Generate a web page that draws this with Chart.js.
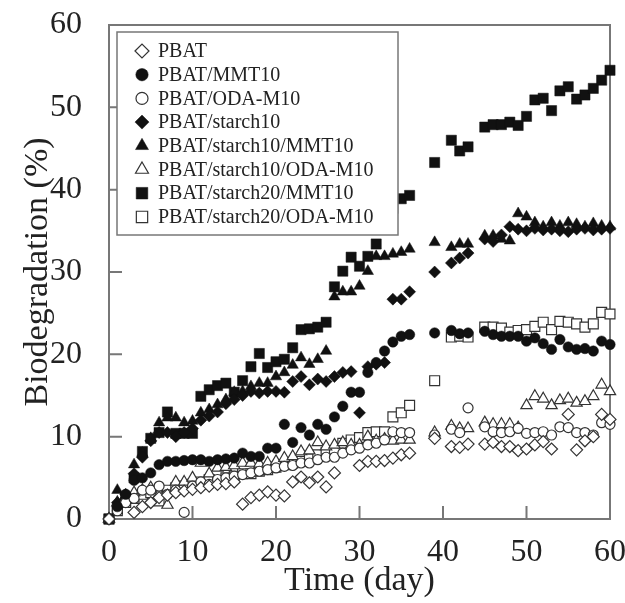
<!DOCTYPE html>
<html>
<head>
<meta charset="utf-8">
<script src="https://cdn.jsdelivr.net/npm/chart.js@4"></script>
<style>
  body { margin: 0; background: #fff; }
  #wrap { width: 625px; height: 603px; }
</style>
</head>
<body>
<div id="wrap"><canvas id="bioChart" width="625" height="603"></canvas></div>
<script>
// sampling days (x values shared by all series)
const days = [0,1,2,3,4,5,6,7,8,9,10,11,12,13,14,15,16,17,18,19,20,21,22,23,24,25,26,27,28,29,30,31,32,33,34,35,36,
  39,41,42,43,45,46,47,48,49,50,51,52,53,54,55,56,57,58,59,60];

const pbat = [0,null,null,0.8,1.5,2,2.6,2.9,3.2,3.4,3.6,3.8,4,4.2,4.3,4.5,1.8,2.6,2.9,3.3,2.9,2.8,4.5,5.1,4.4,5.1,3.9,5.6,null,null,6.5,7,7,7.1,7.4,7.8,8,
  9.8,8.8,8.7,9.1,9.1,9.3,8.8,8.8,8.3,8.5,9,9.4,8.5,null,12.7,8.4,9.5,10,12.7,12.1];
const pbatMmt = [0,1.5,3,4.7,5,5.6,6.6,7,7,7.1,7.2,7.2,7,7.2,7.3,7.4,8,7.6,7.6,8.6,8.6,11.5,9.3,11.1,10.2,11.5,10.9,12.4,13.7,15.4,15.4,17.8,19,20.4,21.5,22.2,22.4,
  22.6,22.9,22.5,22.6,22.8,22.4,22.2,22.2,22.2,21.6,22,21.3,20.6,21.8,20.9,20.6,20.7,20.4,21.6,21.2];
const pbatOda = [0,1,2,2.5,3.5,3.5,4,3,3.5,0.8,4,4.5,4.2,4.8,5,5.2,5.4,5.6,5.8,6,6.2,6.4,6.5,6.8,6.8,7.2,7.5,7.5,8,8.4,8.6,9,9.2,9.6,10.6,10.5,10.5,
  10.2,10.9,10.5,13.5,11.2,10.6,10.5,10.6,11,10.4,10.5,10.6,10.2,11.2,11.1,10.5,10.5,10.2,11.7,11.5];
const s10 = [0,2,3,5.5,7.5,9.5,10.5,10.5,10,10.5,11,12,12.5,13,14,14.5,15,15.5,15.3,15.5,15.5,15.4,16.7,17.3,16.3,17,16.7,17.3,17.8,17.9,12.9,18.5,18.8,19,26.7,26.7,27.6,
  30,31.1,31.7,32.3,34,33.7,34.5,35.5,35.2,35,35.3,35.1,35.2,35,34.9,35.2,35.3,35.1,35.2,35.3];
const s10Mmt = [0,3.5,2.8,6.6,8,9.8,11.7,12.3,12.3,11.7,11.9,12.9,13.3,13.9,14.5,15.4,15.5,16.1,16.5,16.5,17.3,17.8,18.7,19.6,18.8,19.4,20.4,27,27.6,27.6,28.3,30.1,31.9,31.9,32.2,32.4,32.8,
  33.6,33,33.4,33.4,34.4,34.4,34,33.8,37.1,36.7,36,35.5,36,35.6,36,35.8,35.5,35.9,35.6,35.5];
const s10Oda = [0,2,2.5,3.2,3.5,3.8,3,1.7,4.5,4.5,5,6.8,5.5,6.2,6.3,6.5,6.8,6.8,6.7,6.8,7,7.4,7.6,8.2,8.3,9.3,8.8,9,9.3,9,9,10,9.5,9.7,9.5,9.6,9.6,
  10.5,11.3,11,11,11.7,11.5,11.5,11.5,11.1,13.8,14.9,14.6,13.8,14.4,14.6,14.1,14.3,14.9,16.3,15.5];
const s20Mmt = [0,1.3,2.5,5,8.2,9.8,10.5,13,10.4,10.4,10.4,14.9,15.7,16.2,16.5,15.4,16.8,18.5,20.1,18.4,19.1,19.4,20.8,23,23.1,23.3,23.9,28.2,30.1,31.8,30.7,31.9,33.4,36.2,37.7,38.9,39.3,
  43.3,46,44.7,45.2,47.6,47.9,47.9,48.2,47.8,48.9,50.9,51.1,49.6,52,52.5,51,51.5,52.3,53.3,54.5];
const s20Oda = [0,1,2,2.5,3,3.2,2.2,3.5,3.8,4,4.2,4.5,4.8,4.7,5,5.2,5.5,5.5,5.8,6,6.3,6.6,6.8,7,7.3,7.8,8.1,8.3,9.2,9.6,9.9,10.5,10.6,10.6,12.4,12.9,13.8,
  16.8,22.1,22.2,22.1,23.3,23.3,23.2,22.7,22.9,23,23.4,23.9,23,24,23.9,23.7,23.3,23.7,25.1,24.9];

const seriesNames = ['PBAT', 'PBAT/MMT10', 'PBAT/ODA-M10', 'PBAT/starch10', 'PBAT/starch10/MMT10',
  'PBAT/starch10/ODA-M10', 'PBAT/starch20/MMT10', 'PBAT/starch20/ODA-M10'];
const xTicks = [0, 10, 20, 30, 40, 50, 60];
const yTicks = [0, 10, 20, 30, 40, 50, 60];

const serif = '"Liberation Serif", "Times New Roman", serif';
const ink = '#111';

function pts(vals) {
  const out = [];
  vals.forEach((v, i) => { if (v !== null) out.push({ x: days[i], y: v }); });
  return out;
}

function makeSet(label, vals, style, filled, radius) {
  return {
    label: label,
    data: pts(vals),
    pointStyle: style,
    pointRadius: radius,
    pointHoverRadius: radius,
    backgroundColor: filled ? ink : '#fff',
    borderColor: filled ? ink : '#333',
    borderWidth: filled ? 0.5 : 1.2,
    showLine: false,
    clip: false
  };
}

// frame + inward ticks
const frame = {
  id: 'frame',
  beforeDatasetsDraw(chart) {
    const ctx = chart.ctx;
    const a = chart.chartArea;
    const xs = chart.scales.x, ys = chart.scales.y;
    ctx.save();
    ctx.strokeStyle = '#777';
    ctx.lineWidth = 2;
    ctx.strokeRect(a.left, a.top, a.right - a.left, a.bottom - a.top);
    ctx.beginPath();
    xTicks.forEach(t => {
      const px = xs.getPixelForValue(t);
      ctx.moveTo(px, a.bottom);
      ctx.lineTo(px, a.bottom - 13);
    });
    yTicks.forEach(t => {
      const py = ys.getPixelForValue(t);
      ctx.moveTo(a.left, py);
      ctx.lineTo(a.left + 13, py);
    });
    ctx.stroke();
    ctx.restore();
  }
};

// legend drawn inside the plot, with a box around it
const legendBox = {
  id: 'legendBox',
  afterDatasetsDraw(chart) {
    const ctx = chart.ctx;
    const a = chart.chartArea;
    const x0 = a.left + 8, y0 = a.top + 7;
    ctx.save();
    ctx.fillStyle = '#fff';
    ctx.fillRect(x0, y0, 281, 203);
    ctx.strokeStyle = '#777';
    ctx.lineWidth = 1.5;
    ctx.strokeRect(x0, y0, 281, 203);
    ctx.font = '20px ' + serif;
    ctx.textBaseline = 'middle';
    chart.data.datasets.forEach((ds, i) => {
      const cy = y0 + 19 + i * 23.7;
      ctx.fillStyle = ds.backgroundColor;
      ctx.strokeStyle = ds.borderColor;
      ctx.lineWidth = ds.borderWidth;
      Chart.helpers.drawPoint(ctx, { pointStyle: ds.pointStyle, radius: ds.pointRadius + 1, borderWidth: ds.borderWidth, rotation: 0 }, x0 + 25, cy);
      ctx.fillStyle = '#222';
      ctx.fillText(ds.label, x0 + 41, cy + 1);
    });
    ctx.restore();
  }
};

const ctx = document.getElementById('bioChart').getContext('2d');
new Chart(ctx, {
  type: 'scatter',
  data: {
    datasets: [
      makeSet(seriesNames[0], pbat, 'rectRot', false, 6),
      makeSet(seriesNames[1], pbatMmt, 'circle', true, 5.2),
      makeSet(seriesNames[2], pbatOda, 'circle', false, 5),
      makeSet(seriesNames[3], s10, 'rectRot', true, 6),
      makeSet(seriesNames[4], s10Mmt, 'triangle', true, 6.5),
      makeSet(seriesNames[5], s10Oda, 'triangle', false, 6.5),
      makeSet(seriesNames[6], s20Mmt, 'rect', true, 7.2),
      makeSet(seriesNames[7], s20Oda, 'rect', false, 7)
    ]
  },
  options: {
    responsive: false,
    animation: false,
    events: [],
    layout: { autoPadding: false, padding: { top: 25, right: 15, left: 0, bottom: 0 } },
    plugins: {
      legend: { display: false },
      tooltip: { enabled: false }
    },
    scales: {
      x: {
        type: 'linear',
        min: 0,
        max: 60,
        afterFit: s => { s.height = 84; s.paddingLeft = 0; s.paddingRight = 0; },
        afterBuildTicks: s => { s.ticks = xTicks.map(v => ({ value: v })); },
        grid: { display: false, drawTicks: false },
        border: { display: false },
        ticks: { font: { family: serif, size: 32 }, color: '#222', padding: 14, maxRotation: 0 },
        title: { display: true, text: 'Time (day)', font: { family: serif, size: 34 }, color: '#222', padding: { top: 0, bottom: 2 } }
      },
      y: {
        type: 'linear',
        min: 0,
        max: 60,
        afterFit: s => { s.width = 109; s.paddingTop = 0; s.paddingBottom = 0; },
        afterBuildTicks: s => { s.ticks = yTicks.map(v => ({ value: v })); },
        grid: { display: false, drawTicks: false },
        border: { display: false },
        ticks: { font: { family: serif, size: 32 }, color: '#222', padding: 27 },
        title: { display: true, text: 'Biodegradation (%)', font: { family: serif, size: 34 }, color: '#222', padding: { top: 18, bottom: 0 } }
      }
    }
  },
  plugins: [frame, legendBox]
});
</script>
</body>
</html>
